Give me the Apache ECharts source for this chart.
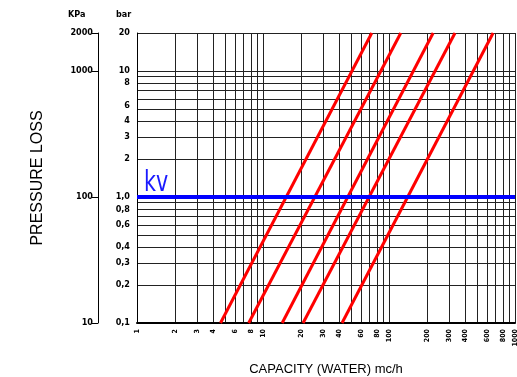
<!DOCTYPE html>
<html>
<head>
<meta charset="utf-8">
<script src="https://cdn.jsdelivr.net/npm/echarts@6/dist/echarts.min.js"></script>
<style>html,body{margin:0;padding:0;background:#fff}#c{width:517px;height:377px}</style>
</head>
<body>
<div id="c"></div>
<script>
// ---- data ----
const sizes = ['1/2"', '3/4"', '1"', '1"1/4', '1"1/2'];
const lossRange = [0.1, 20];               // bar
const flowAtMinLoss = [4.6, 7.7, 14.2, 20.8, 42.4];   // m3/h at 0.1 bar
const flowAtMaxLoss = [73, 124, 224, 334, 670];       // m3/h at 20 bar
const kvLoss = 1.0;                         // bar
const flowRange = [1, 1000];
const xTickLabels = [1, 2, 3, 4, 6, 8, 10, 20, 30, 40, 60, 80, 100, 200, 300, 400, 600, 800, 1000];
const xGridValues = [1,2,3,4,5,6,7,8,9,10,20,30,40,50,60,70,80,90,100,200,300,400,500,600,700,800,900,1000];
const barTickLabels = [0.1, 0.2, 0.3, 0.4, 0.6, 0.8, 1, 2, 3, 4, 6, 8, 10, 20];
const barGridValues = [0.1,0.2,0.3,0.4,0.5,0.6,0.7,0.8,0.9,1,2,3,4,5,6,7,8,9,10,20];
const kpaTickLabels = [10, 100, 1000, 2000];
const kpaRange = [10, 2000];

const narrow = "'Liberation Sans Narrow','Arial Narrow','DejaVu Sans Condensed',sans-serif";

const series = sizes.map((name, i) => ({
  name: name,
  type: 'line',
  symbol: 'none',
  silent: true,
  lineStyle: { color: '#ff0000', width: 3 },
  data: [
    [flowAtMinLoss[i], lossRange[0]],
    { value: [flowAtMaxLoss[i], lossRange[1]],
      label: { show: true, position: 'top', distance: 4, formatter: name,
               fontFamily: narrow, fontSize: 7, fontWeight: 'bold', color: '#000' } }
  ]
}));
series.push({
  name: 'kv', type: 'line', symbol: 'none', silent: true,
  lineStyle: { color: '#0000ff', width: 4 },
  data: [[flowRange[0], kvLoss], [flowRange[1], kvLoss]]
});

const chart = echarts.init(document.getElementById('c'), null, { renderer: 'canvas' });
chart.setOption({
  animation: false,
  backgroundColor: '#fff',
  grid: { left: 137, right: 2, top: 33, bottom: 54, containLabel: false, outerBoundsMode: 'none' },
  xAxis: {
    type: 'log', min: flowRange[0], max: flowRange[1],
    name: 'CAPACITY (WATER) mc/h', nameLocation: 'middle', nameGap: 40,
    nameTextStyle: { fontFamily: "'Liberation Sans',Arial,sans-serif", fontSize: 13, color: '#000', letterSpacing: -0.6 },
    axisLine: { show: true, lineStyle: { color: '#000', width: 2 } },
    axisTick: { show: false, customValues: xGridValues },
    splitLine: { show: true, lineStyle: { color: '#222', width: 1 } },
    axisLabel: { customValues: xTickLabels, rotate: 90, margin: 6, fontFamily: narrow, fontSize: 7,
                 fontWeight: 'bold', color: '#000', formatter: v => String(v) }
  },
  yAxis: [{
    type: 'log', min: lossRange[0], max: lossRange[1], position: 'left',
    axisLine: { show: true, lineStyle: { color: '#000', width: 1 } },
    axisTick: { show: false, customValues: barGridValues },
    splitLine: { show: true, lineStyle: { color: '#222', width: 1 } },
    axisLabel: { customValues: barTickLabels, margin: 7, fontFamily: narrow, fontSize: 9, fontWeight: 'bold', color: '#000',
      formatter: v => {
        if (v === 1) return '1,0';
        if (v === 6) return '{s|6}';
        return String(v).replace('.', ',');
      },
      rich: { s: { fontFamily: narrow, fontSize: 9, fontWeight: 'bold', color: '#000', padding: [14, 0, 0, 0] } }
    }
  }, {
    type: 'log', min: kpaRange[0], max: kpaRange[1], position: 'left', offset: 39,
    name: 'PRESSURE LOSS', nameLocation: 'middle', nameGap: 52, nameRotate: 90,
    nameTextStyle: { fontFamily: "'Liberation Sans',Arial,sans-serif", fontSize: 16, color: '#000' },
    axisLine: { show: true, lineStyle: { color: '#000', width: 1 } },
    axisTick: { show: true, inside: false, length: 6, customValues: kpaTickLabels, lineStyle: { color: '#000' } },
    splitLine: { show: false },
    axisLabel: { customValues: kpaTickLabels, margin: 5, fontFamily: narrow, fontSize: 9, fontWeight: 'bold', color: '#000',
                 formatter: v => String(v) }
  }],
  graphic: [
    { type: 'text', left: 68, top: 10, style: { text: 'KPa', fontFamily: narrow, fontSize: 9, fontWeight: 'bold', fill: '#000' } },
    { type: 'text', left: 116, top: 10, style: { text: 'bar', fontFamily: narrow, fontSize: 9, fontWeight: 'bold', fill: '#000' } },
    { type: 'text', x: 144, y: 170, scaleX: 0.82, style: { text: 'kv', fontFamily: narrow, fontSize: 28, fill: '#1a1aff' } }
  ],
  series: series
});
</script>
</body>
</html>
